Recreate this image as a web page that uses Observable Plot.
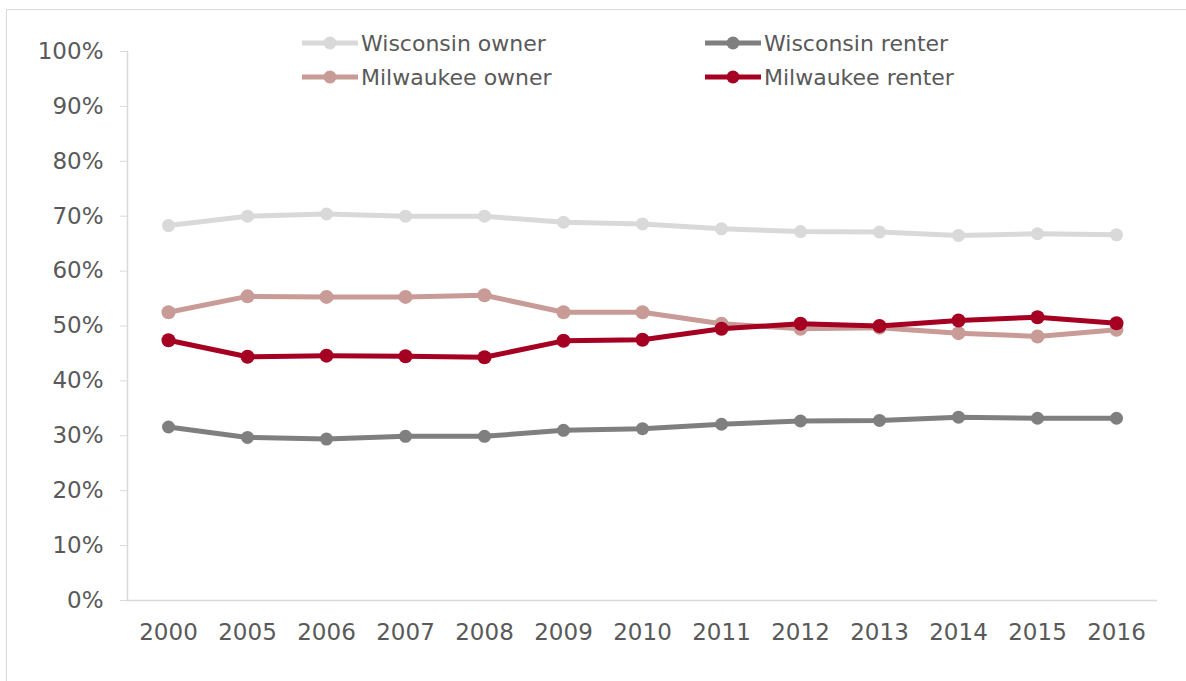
<!DOCTYPE html>
<html>
<head>
<meta charset="utf-8">
<script src="https://cdn.jsdelivr.net/npm/d3@7"></script>
<script src="https://cdn.jsdelivr.net/npm/@observablehq/plot@0.6"></script>
<style>
  html, body { margin: 0; padding: 0; background: #fff; width: 1186px; height: 681px; overflow: hidden; }
  #wrap { position: relative; width: 1186px; height: 681px; font-family: "DejaVu Sans", sans-serif; }
  #border { position: absolute; left: 6px; top: 9px; width: 1200px; height: 700px; border: 1px solid #d9d9d9; box-sizing: border-box; }
  #chart { position: absolute; left: 0; top: 0; }
  .leg { position: absolute; height: 26px; display: flex; align-items: center; font-size: 22px; color: #595959; white-space: nowrap; }
  .leg svg { margin-right: 3px; }
</style>
</head>
<body>
<div id="wrap">
  <div id="border"></div>
  <div id="chart"></div>
</div>
<script>
const years = ["2000","2005","2006","2007","2008","2009","2010","2011","2012","2013","2014","2015","2016"];
const wisconsinOwner  = [68.3, 70.0, 70.4, 70.0, 70.0, 68.9, 68.6, 67.7, 67.2, 67.1, 66.5, 66.8, 66.6];
const wisconsinRenter = [31.6, 29.7, 29.4, 29.9, 29.9, 31.0, 31.3, 32.1, 32.7, 32.8, 33.4, 33.2, 33.2];
const milwaukeeOwner  = [52.5, 55.4, 55.3, 55.3, 55.6, 52.5, 52.5, 50.4, 49.5, 49.7, 48.7, 48.1, 49.3];
const milwaukeeRenter = [47.4, 44.4, 44.6, 44.5, 44.3, 47.3, 47.5, 49.5, 50.4, 50.0, 51.0, 51.6, 50.5];
const seriesNames  = ["Wisconsin owner", "Wisconsin renter", "Milwaukee owner", "Milwaukee renter"];
const seriesColors = ["#d9d9d9", "#7f7f7f", "#c89b96", "#a50021"];
const yTicks = [0, 10, 20, 30, 40, 50, 60, 70, 80, 90, 100];

const seriesValues = [wisconsinOwner, wisconsinRenter, milwaukeeOwner, milwaukeeRenter];
const rows = seriesNames.map((name, i) => years.map((year, j) => ({series: name, year, value: seriesValues[i][j]})));

const seriesMarks = rows.flatMap((data, i) => [
  Plot.lineY(data, {x: "year", y: "value", stroke: seriesColors[i], strokeWidth: 5, strokeLinejoin: "round"}),
  Plot.dot(data, {x: "year", y: "value", fill: seriesColors[i], r: i < 2 ? 6.5 : 7})
]);

const chart = Plot.plot({
  width: 1186,
  height: 681,
  marginLeft: 127,
  marginRight: 29,
  marginTop: 51,
  marginBottom: 81,
  style: {fontFamily: "DejaVu Sans, sans-serif", fontSize: "23px", color: "#595959", background: "transparent", overflow: "visible"},
  x: {type: "point", domain: years, padding: 0.5},
  y: {domain: [0, 100]},
  marks: [
    Plot.frame({anchor: "left", stroke: "#d9d9d9", strokeWidth: 1.5}),
    Plot.ruleY([0], {stroke: "#d9d9d9", strokeWidth: 1.5}),
    Plot.axisY({ticks: yTicks, tickFormat: d => d + "%", tickSize: 7, tickPadding: 17, stroke: "#d9d9d9", fill: "#595959", label: null}),
    Plot.axisX({tickSize: 0, tickPadding: 23, fill: "#595959", label: null}),
    ...seriesMarks
  ]
});
document.getElementById("chart").appendChild(chart);

// legend (two columns, two rows)
const legendPos = [[302, 43], [705, 43], [302, 77], [705, 77]];
const wrap = document.getElementById("wrap");
seriesNames.forEach((name, i) => {
  const div = document.createElement("div");
  div.className = "leg";
  div.style.left = legendPos[i][0] + "px";
  div.style.top = (legendPos[i][1] - 13) + "px";
  const c = seriesColors[i];
  div.innerHTML = `<svg width="56" height="20"><line x1="0" x2="56" y1="10" y2="10" stroke="${c}" stroke-width="5" stroke-linecap="round"/><circle cx="28" cy="10" r="6.5" fill="${c}"/></svg><span>${name}</span>`;
  wrap.appendChild(div);
});
</script>
</body>
</html>
